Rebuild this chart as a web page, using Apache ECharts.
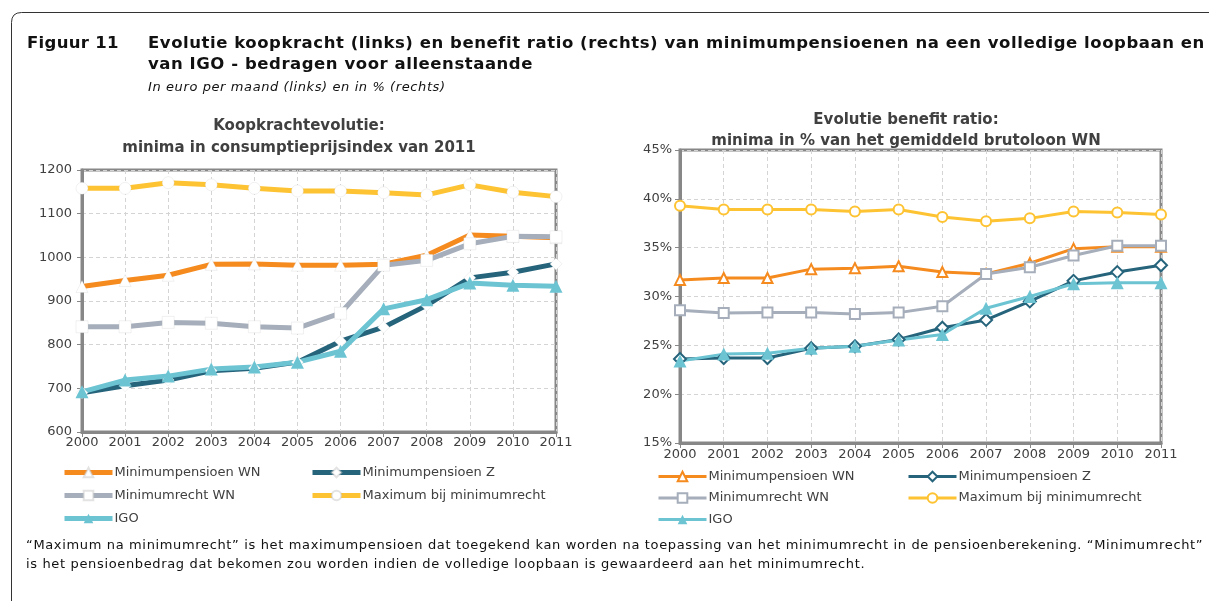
<!DOCTYPE html>
<html>
<head>
<meta charset="utf-8">
<script src="https://cdn.jsdelivr.net/npm/echarts@6/dist/echarts.min.js"></script>
<style>
	html, body { margin: 0; padding: 0; background: #fff; overflow: hidden; }
	#wrap { position: relative; width: 1209px; height: 601px; overflow: hidden; font-family: "DejaVu Sans", sans-serif; }
	#frame { position: absolute; left: 0; top: 0; }
	#main { position: absolute; left: 0; top: 0; width: 1209px; height: 601px; }
	.txt { position: absolute; white-space: nowrap; color: #111; }
	#fig { left: 27px; top: 33px; font-weight: bold; font-size: 16.5px; letter-spacing: 0.3px; }
	#head1 { left: 148px; top: 33px; font-weight: bold; font-size: 16.5px; letter-spacing: 0.55px; }
	#head2 { left: 148px; top: 54px; font-weight: bold; font-size: 16.5px; letter-spacing: 0.55px; }
	#sub { left: 148px; top: 79px; font-style: italic; font-size: 13px; letter-spacing: 0.6px; }
	#note1 { left: 26px; top: 537px; font-size: 13px; letter-spacing: 0.65px; }
	#note2 { left: 26px; top: 556px; font-size: 13px; letter-spacing: 0.65px; }
</style>
</head>
<body>
<div id="wrap">
	<div id="main"></div>
	<svg id="frame" width="1209" height="601"><path d="M11.5,601 L11.5,22.5 Q11.5,12.5 21.5,12.5 L1209,12.5" fill="none" stroke="#333" stroke-width="1"/></svg>
	<div class="txt" id="fig">Figuur 11</div>
	<div class="txt" id="head1">Evolutie koopkracht (links) en benefit ratio (rechts) van minimumpensioenen na een volledige loopbaan en</div>
	<div class="txt" id="head2">van IGO - bedragen voor alleenstaande</div>
	<div class="txt" id="sub">In euro per maand (links) en in % (rechts)</div>
	<div class="txt" id="note1">“Maximum na minimumrecht” is het maximumpensioen dat toegekend kan worden na toepassing van het minimumrecht in de pensioenberekening. “Minimumrecht”</div>
	<div class="txt" id="note2">is het pensioenbedrag dat bekomen zou worden indien de volledige loopbaan is gewaardeerd aan het minimumrecht.</div>
</div>
<script>
	// jaren
	var years = ['2000','2001','2002','2003','2004','2005','2006','2007','2008','2009','2010','2011'];

	// koopkracht (links), euro per maand
	var kkWN   = [933, 947, 959, 984, 985, 982, 982, 984, 1005, 1051, 1048, 1045];
	var kkZ    = [690, 706, 719, 740, 746, 760, 808, 840, 890, 953, 966, 985];
	var kkMinR = [841, 841, 851, 849, 841, 838, 872, 982, 993, 1031, 1048, 1047];
	var kkMax  = [1158, 1158, 1171, 1166, 1158, 1152, 1152, 1148, 1143, 1166, 1149, 1139];
	var kkIGO  = [692, 719, 728, 744, 749, 760, 785, 882, 903, 941, 936, 934];

	// benefit ratio (rechts), in %
	var brWN   = [31.7, 31.9, 31.9, 32.8, 32.9, 33.1, 32.5, 32.3, 33.4, 34.9, 35.1, 35.1];
	var brZ    = [23.6, 23.7, 23.7, 24.7, 24.9, 25.6, 26.8, 27.6, 29.5, 31.6, 32.5, 33.2];
	var brMinR = [28.6, 28.3, 28.35, 28.35, 28.2, 28.35, 29.0, 32.3, 33.0, 34.2, 35.2, 35.2];
	var brMax  = [39.3, 38.9, 38.9, 38.9, 38.7, 38.9, 38.15, 37.7, 38.0, 38.7, 38.6, 38.4];
	var brIGO  = [23.4, 24.1, 24.2, 24.7, 24.9, 25.55, 26.1, 28.8, 30.0, 31.3, 31.4, 31.4];

	var names = ['Minimumpensioen WN', 'Minimumpensioen Z', 'Minimumrecht WN', 'Maximum bij minimumrecht', 'IGO'];
	var kleuren = ['#f58a1f', '#26647c', '#a5aeba', '#fec332', '#6cc4d3'];
	var symbolen = ['triangle', 'diamond', 'rect', 'circle', 'triangle'];

	var font = '"DejaVu Sans", sans-serif';
	var asKleur = '#878787';
	var tekstKleur = '#404040';

	init();
	function init(){
		var myChart = echarts.init(document.getElementById('main'));
		var kkData = [kkWN, kkZ, kkMinR, kkMax, kkIGO];
		var brData = [brWN, brZ, brMinR, brMax, brIGO];
		var series = [];

		// links: dikke lijnen met witte markers
		for (var i = 0; i < 5; i++) {
			var igo = i == 4;
			series.push({
				name: names[i],
				type: 'line',
				xAxisIndex: 0,
				yAxisIndex: 0,
				data: kkData[i],
				symbol: symbolen[i],
				symbolSize: igo ? 13 : 12,
				showAllSymbol: true,
				lineStyle: { color: kleuren[i], width: 5 },
				itemStyle: {
					color: igo ? kleuren[i] : '#fff',
					borderColor: igo ? kleuren[i] : 'rgba(200,200,200,0.5)',
					borderWidth: igo ? 0 : 0.5
				},
				emphasis: { disabled: true },
				animation: false
			});
		}
		// rechts: lijnen met holle markers (naam + spatie, zie formatter legende)
		for (var j = 0; j < 5; j++) {
			var igo2 = j == 4;
			series.push({
				name: names[j] + ' ',
				type: 'line',
				xAxisIndex: 1,
				yAxisIndex: 1,
				data: brData[j],
				symbol: symbolen[j],
				symbolSize: igo2 ? 13 : (j == 1 ? 12 : 10),
				showAllSymbol: true,
				lineStyle: { color: kleuren[j], width: 3 },
				itemStyle: {
					color: igo2 ? kleuren[j] : '#fff',
					borderColor: kleuren[j],
					borderWidth: igo2 ? 0 : 2
				},
				emphasis: { disabled: true },
				animation: false
			});
		}

		function xAs(idx){
			return {
				type: 'category',
				gridIndex: idx,
				data: years,
				boundaryGap: false,
				axisLine: { lineStyle: { color: asKleur, width: 3 } },
				axisTick: { show: true, length: 5, lineStyle: { color: asKleur, width: 1 } },
				axisLabel: { color: tekstKleur, fontFamily: font, fontSize: 13, margin: idx ? 5 : 4 },
				splitLine: { show: true, lineStyle: { color: '#d4d4d4', type: [4, 3], width: 1 } }
			};
		}

		var option = {
			animation: false,
			grid: [
				{ left: 82, right: 653, top: 170, bottom: 169, show: true, borderColor: asKleur, borderWidth: 3, backgroundColor: 'transparent' },
				{ left: 680, right: 48, top: 150, bottom: 158, show: true, borderColor: asKleur, borderWidth: 3, backgroundColor: 'transparent' }
			],
			xAxis: [ xAs(0), xAs(1) ],
			yAxis: [
				{
					type: 'value', gridIndex: 0, min: 600, max: 1200, interval: 100,
					axisLine: { show: true, lineStyle: { color: asKleur, width: 3 } },
					axisTick: { show: true, length: 5, lineStyle: { color: asKleur } },
					axisLabel: { color: tekstKleur, fontFamily: font, fontSize: 13, margin: 10, formatter: function (v) { return String(v); } },
					splitLine: { lineStyle: { color: '#d4d4d4', type: [4, 3] } }
				},
				{
					type: 'value', gridIndex: 1, min: 15, max: 45, interval: 5,
					axisLine: { show: true, lineStyle: { color: asKleur, width: 3 } },
					axisTick: { show: true, length: 5, lineStyle: { color: asKleur } },
					axisLabel: { color: tekstKleur, fontFamily: font, fontSize: 13, margin: 8, formatter: '{value}%' },
					splitLine: { lineStyle: { color: '#d4d4d4', type: [4, 3] } }
				}
			],
			legend: [
				legende([names[0], names[2], names[4]], 62, 466, 10, 5),
				legende([names[1], names[3]], 310, 466, 10, 5),
				legende([names[0] + ' ', names[2] + ' ', names[4] + ' '], 657, 470, 8.5, 3),
				legende([names[1] + ' ', names[3] + ' '], 907, 470, 8.5, 3)
			],
			graphic: [
				titel('Koopkrachtevolutie:', 299, 126),
				titel('minima in consumptieprijsindex van 2011', 299, 148),
				titel('Evolutie benefit ratio:', 906, 120),
				titel('minima in % van het gemiddeld brutoloon WN', 906, 141)
			],
			series: series
		};
		myChart.setOption(option);
	}

	function legende(data, x, y, gap, dikte){
		return {
			data: data,
			orient: 'vertical',
			left: x,
			top: y,
			itemWidth: 48,
			itemHeight: 12,
			itemGap: gap,
			selectedMode: false,
			padding: 0,
			lineStyle: { width: dikte },
			formatter: function (n) { return n.trim(); },
			textStyle: { color: tekstKleur, fontFamily: font, fontSize: 13, padding: [0, 0, 0, -3] }
		};
	}

	function titel(tekst, x, y){
		return {
			type: 'text',
			x: x,
			y: y,
			style: {
				text: tekst,
				fill: tekstKleur,
				font: 'bold 15px ' + font,
				align: 'center',
				verticalAlign: 'middle'
			}
		};
	}
</script>
</body>
</html>
